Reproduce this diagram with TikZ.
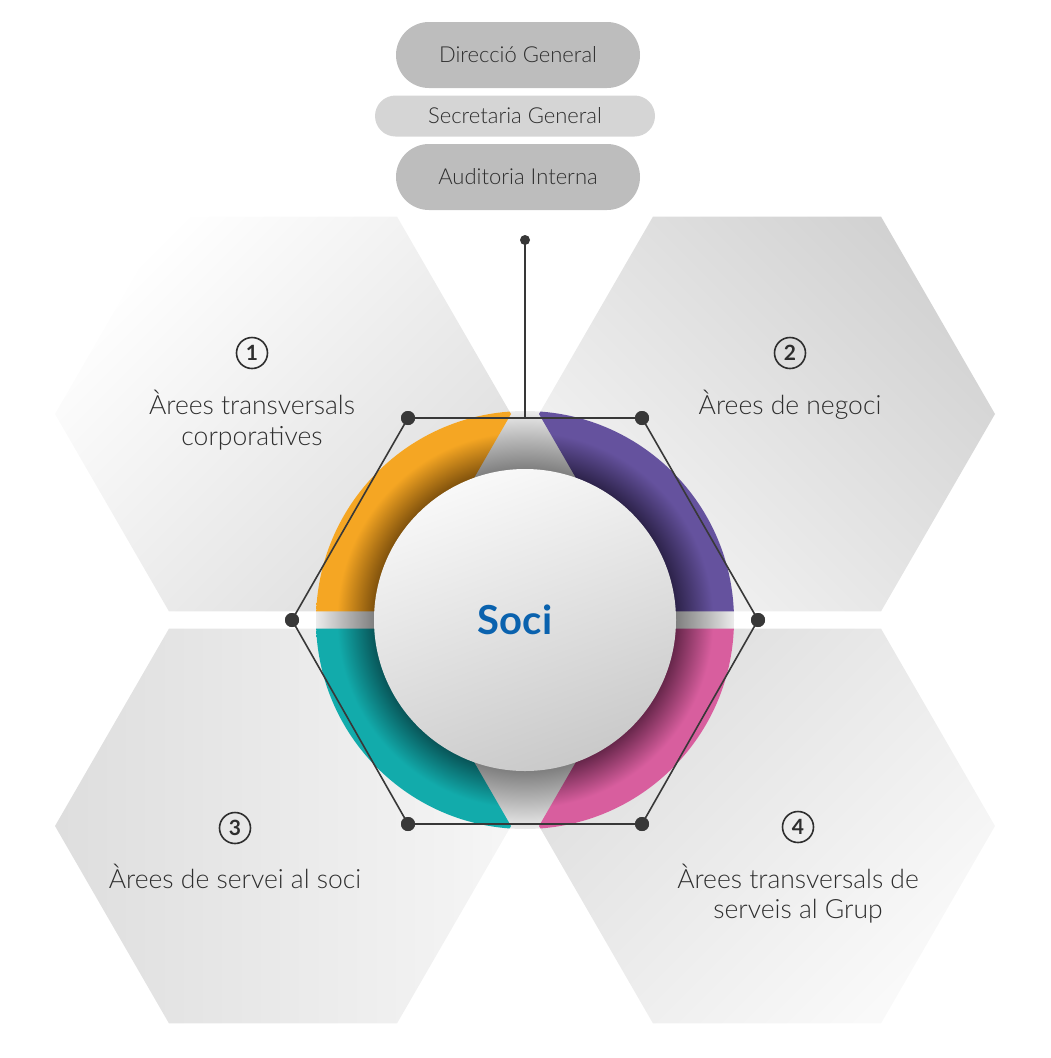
\documentclass[tikz,border=0pt]{standalone}
\usepackage{fontspec}
\newfontfamily\latob{Lato}
\IfFontExistsTF{Lato Light}{\setmainfont{Lato Light}}{\setmainfont{Lato}}
\definecolor{orc}{HTML}{F5A623}\definecolor{ordk}{HTML}{7E500C}
\definecolor{puc}{HTML}{65529E}\definecolor{pudk}{HTML}{2C2249}
\definecolor{tec}{HTML}{12ABAB}\definecolor{tedk}{HTML}{085457}
\definecolor{pic}{HTML}{D85E9E}\definecolor{pidk}{HTML}{66264A}
\definecolor{grdk}{HTML}{7E7E7E}\definecolor{grmd}{HTML}{B4B4B4}\definecolor{grlt}{HTML}{ECECEC}
\definecolor{socib}{HTML}{0A62AE}
\definecolor{txt}{HTML}{2E2E2E}
\definecolor{pilld}{HTML}{BDBDBD}\definecolor{pilll}{HTML}{D5D5D5}
\definecolor{lin}{HTML}{383838}
\pgfdeclareradialshading{ringor}{\pgfpoint{0bp}{0bp}}{color(0bp)=(ordk); color(18bp)=(ordk); color(22.5bp)=(orc); color(50bp)=(orc)}
\pgfdeclareradialshading{ringpu}{\pgfpoint{0bp}{0bp}}{color(0bp)=(pudk); color(18bp)=(pudk); color(22.5bp)=(puc); color(50bp)=(puc)}
\pgfdeclareradialshading{ringte}{\pgfpoint{0bp}{0bp}}{color(0bp)=(tedk); color(18bp)=(tedk); color(22.5bp)=(tec); color(50bp)=(tec)}
\pgfdeclareradialshading{ringpi}{\pgfpoint{0bp}{0bp}}{color(0bp)=(pidk); color(18bp)=(pidk); color(22.5bp)=(pic); color(50bp)=(pic)}
\pgfdeclareradialshading{ringgr}{\pgfpoint{0bp}{0bp}}{color(0bp)=(grdk); color(18bp)=(grdk); color(21.5bp)=(grmd); color(25bp)=(grlt); color(50bp)=(grlt)}
\tikzset{
  pilldark/.style={draw=none, fill=pilld, rounded corners=33pt, minimum width=244pt, minimum height=66pt, inner sep=0pt, text=txt, font=\fontsize{22}{24}\selectfont},
  pilllight/.style={draw=none, fill=pilll, rounded corners=20.5pt, minimum width=280pt, minimum height=41pt, inner sep=0pt, text=txt, font=\fontsize{22}{24}\selectfont},
  numcirc/.style={circle, draw=txt, line width=1.6pt, minimum size=31pt, inner sep=0pt, text=txt, font=\latob\bfseries\fontsize{21}{22}\selectfont},
  lbl/.style={anchor=base, text=txt, inner sep=0pt, font=\fontsize{26.5}{28}\selectfont},
  vdot/.style={circle, fill=lin, minimum size=14pt, inner sep=0pt},
  tdot/.style={circle, fill=lin, minimum size=10pt, inner sep=0pt},
  hexline/.style={draw=lin, line width=1.6pt},
}
\newcommand{\hexpath}[1]{(#1)+(0:228) -- +(60:228) -- +(120:228) -- +(180:228) -- +(240:228) -- +(300:228) -- cycle}
\begin{document}
\begin{tikzpicture}[x=1pt,y=-1pt]
\useasboundingbox (0,0) rectangle (1050,1058);
% hexagon centres
\coordinate (h1) at (283,414);
\coordinate (h2) at (767,414);
\coordinate (h3) at (283,826);
\coordinate (h4) at (767,826);
\coordinate (c) at (525,620);
% background hexagons
\shade[top color=white, bottom color=grlt!94!black, shading angle=45] \hexpath{h1};
\shade[top color=grlt!89!black, bottom color=grlt!60!white, shading angle=-45] \hexpath{h2};
\shade[left color=grlt!94!black, right color=grlt!50!white] \hexpath{h3};
\shade[top color=grlt!94!black, bottom color=grlt!30!white, shading angle=45] \hexpath{h4};
% gray ring background
\shade[shading=ringgr] (c) circle[radius=209];
% coloured ring segments
\begin{scope}\clip \hexpath{h1}; \shade[shading=ringor] (c) circle[radius=209];\end{scope}
\begin{scope}\clip \hexpath{h2}; \shade[shading=ringpu] (c) circle[radius=209];\end{scope}
\begin{scope}\clip \hexpath{h3}; \shade[shading=ringte] (c) circle[radius=209];\end{scope}
\begin{scope}\clip \hexpath{h4}; \shade[shading=ringpi] (c) circle[radius=209];\end{scope}
% central circle
\shade[top color=gray!5, bottom color=gray!42, shading angle=20] (c) circle[radius=151];
\node[text=socib, font=\latob\bfseries\fontsize{40}{44}\selectfont, inner sep=0pt] (soci) at (515,620) {Soci};
% hexagon outline
\node[vdot] (v1) at (408,418) {};
\node[vdot] (v2) at (642,418) {};
\node[vdot] (v3) at (758,620) {};
\node[vdot] (v4) at (642,824) {};
\node[vdot] (v5) at (408,824) {};
\node[vdot] (v6) at (292,620) {};
\draw[hexline] (v1.center) -- (v2.center) -- (v3.center) -- (v4.center) -- (v5.center) -- (v6.center) -- cycle;
\foreach \v in {v1,v2,v3,v4,v5,v6} \node[vdot] at (\v) {};
% top connector
\coordinate (topmid) at (525,418);
\node[tdot] (topdot) at (525,240) {};
\draw[draw=lin, line width=2pt] (topdot.center) -- (topmid);
% pills
\node[pilldark] (dg) at (518,55) {Direcció General};
\node[pilllight] (sg) at (515,116) {Secretaria General};
\node[pilldark] (ai) at (518,177) {Auditoria Interna};
% numbers and labels
\node[numcirc] (n1) at (252,353) {1};
\node[lbl] (l1a) at (252,414) {Àrees transversals};
\node[lbl] (l1b) at (252,445) {corporatives};
\node[numcirc] (n2) at (790,353) {2};
\node[lbl] (l2) at (790,414) {Àrees de negoci};
\node[numcirc] (n3) at (235,828) {3};
\node[lbl] (l3) at (235,888) {Àrees de servei al soci};
\node[numcirc] (n4) at (798,827) {4};
\node[lbl] (l4a) at (798,888) {Àrees transversals de};
\node[lbl] (l4b) at (798,918) {serveis al Grup};
\end{tikzpicture}
\end{document}
